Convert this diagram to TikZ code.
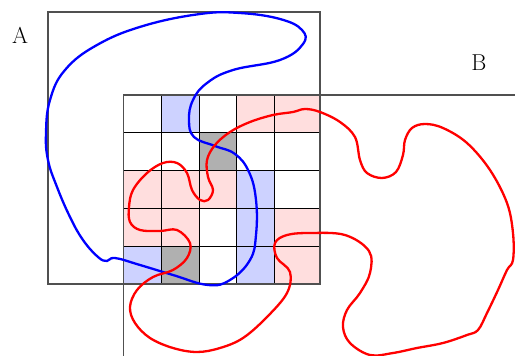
\documentclass[tikz,border=0pt]{standalone}
\definecolor{cellblue}{RGB}{205,210,255}
\definecolor{cellpink}{RGB}{255,222,222}
\definecolor{cellgray}{RGB}{176,176,176}
\definecolor{boxline}{RGB}{80,80,80}
\begin{document}
\begin{tikzpicture}[x=1pt,y=-1pt,font=\fontsize{23}{28}\selectfont]
\useasboundingbox (0,0) rectangle (515,356);
% cells
\foreach \c/\r/\col in {2/1/cellblue,4/1/cellpink,5/1/cellpink,3/2/cellgray,
  1/3/cellpink,2/3/cellpink,3/3/cellpink,4/3/cellblue,
  1/4/cellpink,2/4/cellpink,4/4/cellblue,5/4/cellpink,
  1/5/cellblue,2/5/cellgray,4/5/cellblue,5/5/cellpink}
  \fill[\col] ({123.5+37.8*(\c-1)},{95+37.8*(\r-1)})
    rectangle ({\c==5 ? 320 : 123.5+37.8*\c},{95+37.8*\r});
% grid
\foreach \i in {1,...,4} {
  \draw[line width=1pt] ({123.5+37.8*\i},95) -- ({123.5+37.8*\i},284);
  \draw[line width=1pt] (123.5,{95+37.8*\i}) -- (320,{95+37.8*\i});
}
\draw[boxline,line width=1.2pt] (48,12) rectangle (320,284);
\draw[boxline,line width=1.2pt] (515,95) -- (123.5,95) -- (123.5,356);
\node (labA) at (20,35) {A};
\node (labB) at (479,63) {B};
% the two regions
\draw[blue,line width=2.3pt] plot[smooth cycle,tension=0.7] coordinates {
  (97,45) (143,26) (200,14) (240,13) (280,19) (302,30) (303,44)
  (280,60) (233,70) (207,83) (193,100) (189,120) (194,137)
  (215,146) (235,154) (249,172) (256,200) (256,235) (250,260)
  (230,280) (208,285) (173,275) (140,265) (115,258)
  (107,261) (98,257) (83,240) (70,217) (57,187) (48,160) (46,133) (50,100)
  (65,70)};
\draw[red,line width=2.3pt] plot[smooth cycle,tension=0.6] coordinates {
  (305,109) (320,112) (340,122) (355,137) (360,160) (367,173)
  (382,178) (396,172) (403,155) (405,140) (412,128) (425,124) (443,128)
  (467,143) (490,170) (507,203) (513,233) (513,260) (507,270) (498,290)
  (487,313) (478,330) (467,335) (443,343) (417,348) (393,353) (370,355)
  (350,343) (343,327) (347,310) (360,293) (370,273) (369,251)
  (345,235) (310,233) (287,235) (275,243) (277,258) (290,272)
  (287,293) (267,317) (243,338) (220,348) (197,352) (173,348) (150,338)
  (135,323) (130,307) (137,290) (153,277) (173,270) (187,258) (190,243)
  (177,230) (160,231) (140,230) (130,222) (129,207) (133,190)
  (147,173) (163,163) (177,163) (187,173) (192,190) (200,200) (208,200)
  (213,190) (208,177) (207,160) (215,145) (230,132) (250,122) (273,115)
  (293,112)};
\end{tikzpicture}
\end{document}
